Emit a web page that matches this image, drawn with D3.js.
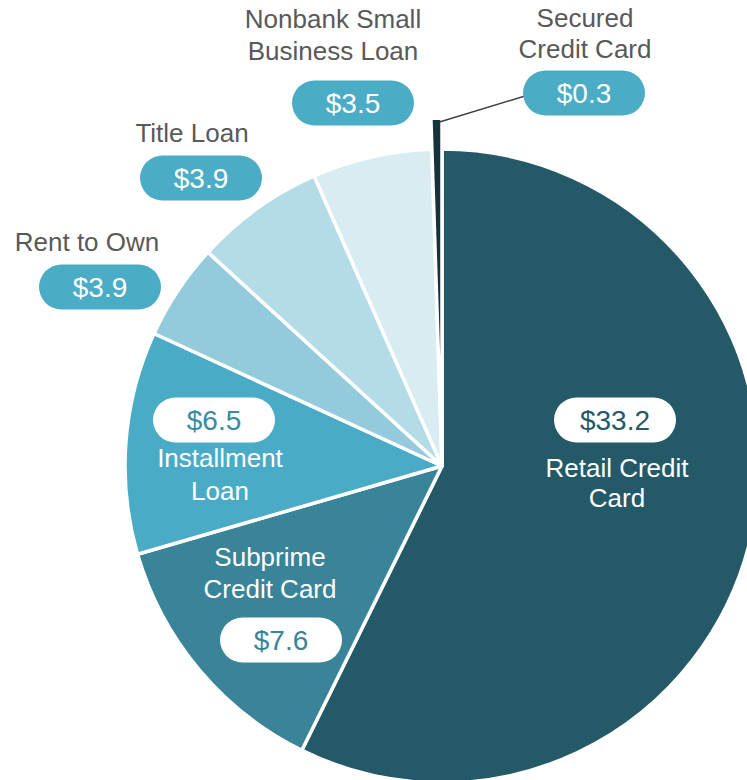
<!DOCTYPE html>
<html>
<head>
<meta charset="utf-8">
<script src="https://cdn.jsdelivr.net/npm/d3@7"></script>
<style>
  html, body { margin: 0; padding: 0; background: #ffffff; }
  svg { display: block; }
  text { font-family: "Liberation Sans", Arial, sans-serif; }
</style>
</head>
<body>
<svg id="chart" width="747" height="780"></svg>
<script>
// ---- data ----
const categories = ["Retail Credit Card", "Subprime Credit Card", "Installment Loan", "Rent to Own", "Title Loan", "Nonbank Small Business Loan", "Secured Credit Card"];
const values = [33.8, 7.8, 6.7, 2.9, 3.9, 3.6, 0.3];
// value labels as printed on the picture
const valueLabels = ["$33.2", "$7.6", "$6.5", "$3.9", "$3.9", "$3.5", "$0.3"];
const labelLines = [["Retail Credit", "Card"], ["Subprime", "Credit Card"], ["Installment", "Loan"], ["Rent to Own"], ["Title Loan"], ["Nonbank Small", "Business Loan"], ["Secured", "Credit Card"]];

// ---- styles / layout ----
const colors = ["#245a67", "#3a8499", "#4aabc6", "#93cbdc", "#b4dce8", "#d8ecf2", "#16323d"];
const insideTextColors = ["#245a67", "#3a8499", "#3a8ba2"];
const cx = 442, cy = 466, R = 317, Rsecured = 348;
const pillW = 122, pillH = 45;
// label layout: pill centre, text centre x, text baselines, inside (white pill) or outside
const layout = [
  { px: 615, py: 420, tx: 617, ty: [477, 507], inside: true },
  { px: 281, py: 640, tx: 270, ty: [566, 598], inside: true },
  { px: 214, py: 420, tx: 220, ty: [467, 500], inside: true },
  { px: 100, py: 287, tx: 87,  ty: [251], inside: false },
  { px: 201, py: 178, tx: 192, ty: [142], inside: false },
  { px: 353, py: 103, tx: 333, ty: [28, 60], inside: false },
  { px: 584, py: 93,  tx: 585, ty: [27, 58], inside: false }
];

const svg = d3.select("#chart");
const g = svg.append("g").attr("transform", `translate(${cx},${cy})`);

const pie = d3.pie().sort(null).value(d => d.value);
const rows = categories.map((c, i) => ({ cat: c, value: values[i], i }));
const arcs = pie(rows);

const arcMain = d3.arc().innerRadius(0).outerRadius(R);
const arcSecured = d3.arc().innerRadius(0).outerRadius(Rsecured);

g.selectAll("path.slice")
  .data(arcs)
  .join("path")
  .attr("class", "slice")
  .attr("d", d => d.data.i === 6 ? arcSecured(d) : arcMain(d))
  .attr("fill", d => colors[d.data.i])
  .attr("stroke", "#ffffff")
  .attr("stroke-width", 3.5)
  .attr("stroke-linejoin", "round");

// leader line for Secured Credit Card
const sec = arcs[6];
const midA = (sec.startAngle + sec.endAngle) / 2;
const lx = cx + Math.sin(midA) * (Rsecured - 4) + 3;
const ly = cy - Math.cos(midA) * (Rsecured - 4);
svg.append("line")
  .attr("x1", lx).attr("y1", ly)
  .attr("x2", layout[6].px - pillW / 2 + 2).attr("y2", layout[6].py + 3)
  .attr("stroke", "#404040")
  .attr("stroke-width", 1.5);

// labels
const lab = svg.append("g");
arcs.forEach(d => {
  const i = d.data.i;
  const L = layout[i];
  lab.append("rect")
    .attr("x", L.px - pillW / 2).attr("y", L.py - pillH / 2)
    .attr("width", pillW).attr("height", pillH)
    .attr("rx", pillH / 2).attr("ry", pillH / 2)
    .attr("fill", L.inside ? "#ffffff" : "#4bacc6");
  lab.append("text")
    .attr("x", L.px).attr("y", L.py + 10)
    .attr("text-anchor", "middle")
    .attr("font-size", 28)
    .attr("fill", L.inside ? insideTextColors[i] : "#ffffff")
    .text(valueLabels[i]);
  labelLines[i].forEach((line, j) => {
    lab.append("text")
      .attr("x", L.tx).attr("y", L.ty[j])
      .attr("text-anchor", "middle")
      .attr("font-size", 26)
      .attr("fill", L.inside ? "#ffffff" : "#595959")
      .text(line);
  });
});
</script>
</body>
</html>
